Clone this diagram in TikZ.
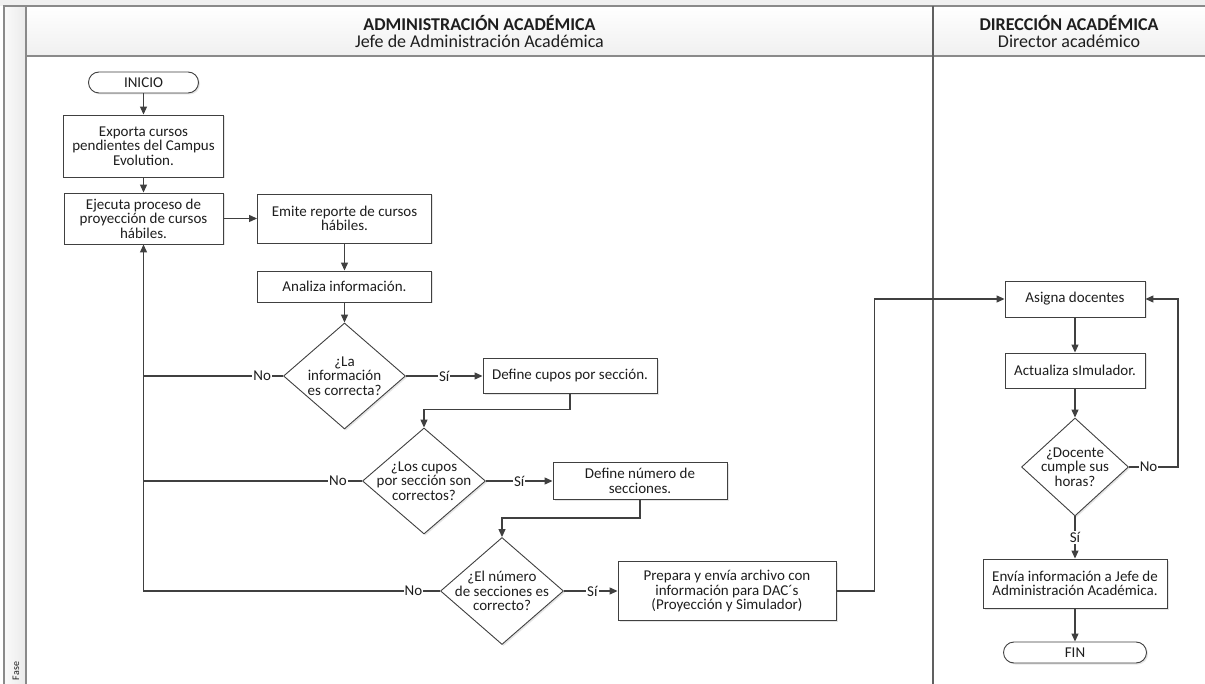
\documentclass[tikz,border=0pt]{standalone}
\usepackage{fontspec}
\setmainfont{Carlito}
\usetikzlibrary{arrows.meta,shapes.geometric,shadows}
\definecolor{ink}{HTML}{1E1E1E}
\definecolor{edge}{HTML}{404040}
\definecolor{lane}{HTML}{8A8A8A}
\definecolor{lanedark}{HTML}{606060}
\begin{document}
\begin{tikzpicture}[x=1pt,y=-1pt,
  every node/.style={font=\fontsize{15}{14.6}\selectfont, text=ink},
  shade box/.style={drop shadow={shadow xshift=1.5pt, shadow yshift=-1.5pt, fill=gray!45, opacity=0.45}},
  box/.style={draw=edge, line width=0.9pt, fill=white, align=center, inner sep=2pt, shade box},
  term/.style={box, rounded corners=10.5pt, minimum height=21pt},
  dia/.style={draw=edge, line width=0.9pt, fill=white, shape=diamond, inner sep=0pt, shade box},
  dtext/.style={align=center, inner sep=0pt},
  conn/.style={draw=edge, line width=1.2pt},
  arr/.style={conn, -{Triangle[length=8pt,width=7pt]}},
  lbl/.style={fill=white, inner sep=1pt},
  lanehead/.style={align=center, font=\fontsize{18}{17}\selectfont}
]
% canvas and pool frame
\useasboundingbox (0,0) rectangle (1205,684);
\fill[white] (0,0) rectangle (1205,684);
\fill[gray!12] (0,0) rectangle (1205,6);
\shade[top color=white, bottom color=gray!12] (26,6) rectangle (1205,56);
\shade[left color=gray!4, right color=gray!16] (4,6) rectangle (26,684);
\draw[lane, line width=1.6pt] (4,684) -- (4,6) -- (1205,6);
\draw[lane, line width=1.4pt] (26,6) -- (26,684);
\draw[lane, line width=1.6pt] (26,56) -- (1205,56);
\draw[lanedark, line width=1.4pt] (933,6) -- (933,684);

% lane headers
\node[lanehead] (hadm) at (479.5,31.5) {\textbf{ADMINISTRACIÓN ACADÉMICA}\\Jefe de Administración Académica};
\node[lanehead] (hdir) at (1069,31.5) {\textbf{DIRECCIÓN ACADÉMICA}\\Director académico};
\node[rotate=90, font=\fontsize{10}{12}\selectfont] (fase) at (16,671) {Fase};

% Administración Académica lane
\node[term, minimum width=110pt] (inicio) at (143.5,82.5) {INICIO};
\node[box, minimum width=160pt, minimum height=62pt] (exporta) at (143.5,146)
  {Exporta cursos\\pendientes del Campus\\Evolution.};
\node[box, minimum width=159pt, minimum height=51pt] (ejecuta) at (143.5,218.5)
  {Ejecuta proceso de\\proyección de cursos\\hábiles.};
\node[box, minimum width=174pt, minimum height=49pt] (emite) at (344.5,218.5)
  {Emite reporte de cursos\\hábiles.};
\node[box, minimum width=174pt, minimum height=31pt] (analiza) at (344.5,286.5)
  {Analiza información.};
\node[dia, minimum width=122pt, minimum height=106pt] (d1) at (344.5,376) {};
\node[dtext] (d1t) at (d1.center) {¿La\\información\\es correcta?};
\node[box, minimum width=174pt, minimum height=35pt] (cupos) at (570,376)
  {Define cupos por sección.};
\node[dia, minimum width=123pt, minimum height=106pt] (d2) at (424,481) {};
\node[dtext] (d2t) at (d2.center) {¿Los cupos\\por sección son\\correctos?};
\node[box, minimum width=174pt, minimum height=37pt] (numero) at (640,481)
  {Define número de\\secciones.};
\node[dia, minimum width=123pt, minimum height=107pt] (d3) at (502,591) {};
\node[dtext] (d3t) at (d3.center) {¿El número\\de secciones es\\correcto?};
\node[box, minimum width=218pt, minimum height=59pt] (prepara) at (727,591)
  {Prepara y envía archivo con\\información para DAC´s\\(Proyección y Simulador)};

% Dirección Académica lane
\node[box, minimum width=140pt, minimum height=36pt] (asigna) at (1075,299) {Asigna docentes};
\node[box, minimum width=140pt, minimum height=35pt] (actualiza) at (1075,370.5) {Actualiza sImulador.};
\node[dia, minimum width=107pt, minimum height=98pt] (d4) at (1075,467) {};
\node[dtext] (d4t) at (d4.center) {¿Docente\\cumple sus\\horas?};
\node[box, minimum width=184pt, minimum height=49pt] (envia) at (1075,583.5)
  {Envía información a Jefe de\\Administración Académica.};
\node[term, minimum width=143pt] (fin) at (1075,652.5) {FIN};

% flow
\draw[arr] (inicio) -- (exporta);
\draw[arr] (exporta) -- (ejecuta);
\draw[arr] (ejecuta.east) -- (ejecuta.east -| emite.west);
\draw[arr] (emite) -- (analiza);
\draw[arr] (analiza) -- (d1);
\draw[arr] (d1.east) -- node[lbl]{Sí} (d1.east -| cupos.west);
\draw[conn] (d1.west) -- node[lbl, pos=0.15]{No} (d1.west -| ejecuta.south);
\draw[arr] (cupos.south) -- ++(0,15.5) -| (d2.north);
\draw[arr] (d2.east) -- node[lbl]{Sí} (d2.east -| numero.west);
\draw[conn] (d2.west) -- node[lbl, pos=0.11]{No} (d2.west -| ejecuta.south);
\draw[arr] (numero.south) -- ++(0,18) -| (d3.north);
\draw[arr] (d3.east) -- node[lbl, pos=0.53]{Sí} (d3.east -| prepara.west);
\draw[arr] (d3.west) -- node[lbl, pos=0.09]{No} (d3.west -| ejecuta.south) -- (ejecuta.south);
\draw[arr] (prepara.east) -- ++(38,0) |- (asigna.west);
\draw[arr] (asigna) -- (actualiza);
\draw[arr] (actualiza) -- (d4);
\draw[arr] (d4.east) -- node[lbl, pos=0.4]{No} ++(49,0) |- (asigna.east);
\draw[arr] (d4.south) -- node[lbl]{Sí} (envia.north);
\draw[arr] (envia) -- (fin);
\end{tikzpicture}
\end{document}
